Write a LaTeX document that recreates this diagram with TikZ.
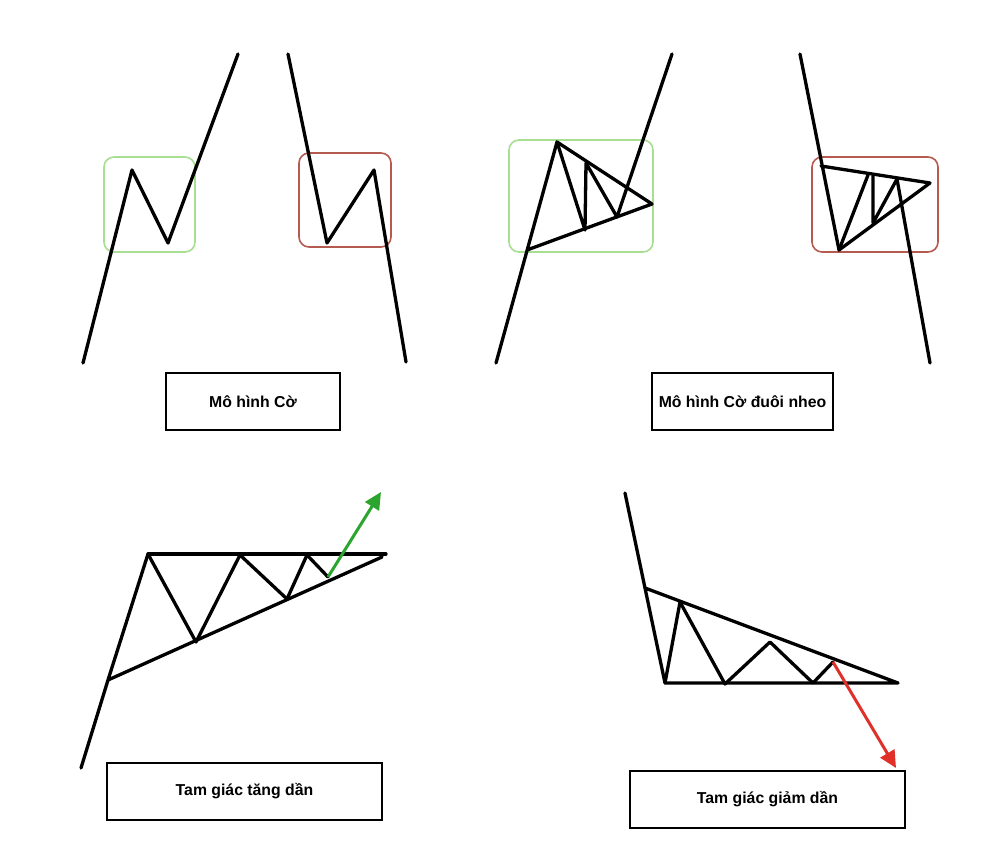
\documentclass[tikz,border=0pt]{standalone}
\usepackage{fontspec}
\setmainfont{Liberation Sans}
\usetikzlibrary{arrows.meta}
\definecolor{boxgreen}{HTML}{A8DE92}
\definecolor{boxred}{HTML}{B55A50}
\definecolor{arrgreen}{HTML}{2BA52E}
\definecolor{arrred}{HTML}{E0302A}
\tikzset{
  price/.style={line width=3.3pt, line join=round, line cap=round, black},
  zonegreen/.style={draw=boxgreen, line width=1.6pt, rounded corners=10pt},
  zonered/.style={draw=boxred, line width=1.6pt, rounded corners=10pt},
  labelbox/.style={draw=black, line width=2pt, font=\bfseries\fontsize{15.8}{18}\selectfont, inner sep=0pt, anchor=north west},
  breakout/.style={line width=3pt, -{Triangle[length=17pt,width=16pt]}}
}
\begin{document}
\begin{tikzpicture}[x=1pt,y=-1pt]
\useasboundingbox (0,0) rectangle (1000,861);
% ---------- Panel 1: flags ----------
\draw[zonegreen] (104,157) rectangle (195,252);
\coordinate (a1) at (83,363); \coordinate (a2) at (132,170);
\coordinate (a3) at (168,243); \coordinate (a4) at (238,54);
\draw[price] (a1) -- (a2) -- (a3) -- (a4);
\draw[zonered] (299,153) rectangle (391,247);
\coordinate (b1) at (288,54); \coordinate (b2) at (327,243);
\coordinate (b3) at (374,170); \coordinate (b4) at (406,362);
\draw[price] (b1) -- (b2) -- (b3) -- (b4);
\node[labelbox, minimum width=174pt, minimum height=57pt] (l1) at (165,372) {Mô hình Cờ};
% ---------- Panel 2: pennants ----------
\draw[zonegreen] (509,140) rectangle (653,252);
\coordinate (c0) at (496,363); \coordinate (cb) at (527,250);
\coordinate (ct) at (557,142); \coordinate (cx) at (652,204);
\coordinate (c1) at (585,230); \coordinate (c2) at (586,163);
\coordinate (c3) at (617,217); \coordinate (c4) at (672,54);
\draw[price] (c0) -- (ct) -- (cx) -- (cb);
\draw[price] (ct) -- (c1) -- (c2) -- (c3) -- (c4);
\draw[zonered] (812,157) rectangle (938,252);
\coordinate (d0) at (800,54); \coordinate (dt) at (821,166);
\coordinate (db) at (839,250); \coordinate (dx) at (930,183);
\coordinate (d1) at (868,175); \coordinate (d2) at (873,176);
\coordinate (d3) at (873,223); \coordinate (d4) at (897,179);
\coordinate (d5) at (930,363);
\draw[price] (d0) -- (db) -- (dx) -- (dt);
\draw[price] (db) -- (d1);
\draw[price] (d2) -- (d3) -- (d4) -- (d5);
\node[labelbox, minimum width=181pt, minimum height=57pt] (l2) at (651,372) {Mô hình Cờ đuôi nheo};
% ---------- Panel 3: ascending triangle ----------
\coordinate (e0) at (81,768); \coordinate (eb) at (108,680);
\coordinate (et) at (148,554); \coordinate (er) at (386,554);
\coordinate (el) at (382,557);
\coordinate (e1) at (196,642); \coordinate (e2) at (240,555);
\coordinate (e3) at (287,599); \coordinate (e4) at (307,555);
\coordinate (e5) at (328,577); \coordinate (e6) at (381,492);
\draw[price] (e0) -- (eb) -- (et);
\draw[price] (et) -- (er);
\draw[price] (eb) -- (el);
\draw[price] (et) -- (e1) -- (e2) -- (e3) -- (e4) -- (e5);
\draw[breakout, arrgreen] (e5) -- (e6);
\node[labelbox, minimum width=275pt, minimum height=57pt] (l3) at (106,762) {Tam giác tăng dần};
% ---------- Panel 4: descending triangle ----------
\coordinate (f0) at (625,493); \coordinate (ft) at (645,588);
\coordinate (fb) at (665,683); \coordinate (fr) at (898,683);
\coordinate (f1) at (680,602); \coordinate (f2) at (725,684);
\coordinate (f3) at (770,642); \coordinate (f4) at (813,683);
\coordinate (f5) at (833,662); \coordinate (f6) at (896,768);
\draw[price] (f0) -- (ft) -- (fb) -- (fr) -- (ft);
\draw[price] (fb) -- (f1) -- (f2) -- (f3) -- (f4) -- (f5);
\draw[breakout, arrred] (f5) -- (f6);
\node[labelbox, minimum width=275pt, minimum height=57pt] (l4) at (629,770) {Tam giác giảm dần};
\end{tikzpicture}
\end{document}
